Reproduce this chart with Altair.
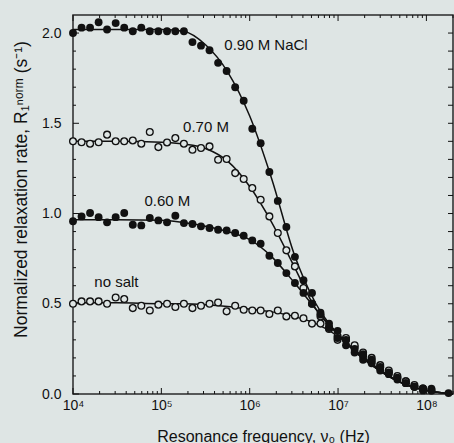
import altair as alt
import pandas as pd

# Sweep frequencies of the measured points (Hz)
FREQ_HZ = [1.00e4, 1.25e4, 1.56e4, 1.95e4, 2.43e4, 3.04e4, 3.80e4, 4.75e4, 5.93e4, 7.40e4,
           9.25e4, 1.16e5, 1.44e5, 1.80e5, 2.25e5, 2.81e5, 3.51e5, 4.39e5, 5.48e5, 6.85e5,
           8.55e5, 1.07e6, 1.33e6, 1.67e6, 2.08e6, 2.60e6, 3.25e6, 4.06e6, 5.07e6, 6.33e6,
           7.91e6, 9.88e6, 1.23e7, 1.54e7, 1.92e7, 2.40e7, 3.00e7, 3.75e7, 4.69e7, 5.85e7,
           7.31e7, 9.14e7, 1.14e8, 1.43e8, 1.78e8]

# Normalized relaxation rates (1/s); None where no point was recorded
R_090 = [2.00, 2.03, 2.03, 2.06, 2.02, 2.055, 2.03, 2.01, 2.03, 2.01,
         2.01, 2.01, 2.01, 2.01, 1.95, 1.93, 1.905, 1.835, 1.79, 1.70,
         1.625, 1.47, 1.39, 1.23, 1.07, 0.925, 0.76, 0.63, 0.56, 0.44,
         0.37, 0.31, 0.27, 0.23, 0.19, 0.17, 0.13, 0.11, 0.08, 0.06,
         0.04, 0.03, 0.03, None, 0.005]
R_070 = [1.40, 1.395, 1.387, 1.395, 1.437, 1.40, 1.40, 1.405, 1.387, 1.452,
         1.368, 1.394, 1.418, 1.387, 1.353, 1.363, 1.372, 1.298, 1.302, 1.224,
         1.191, 1.141, 1.076, 0.984, 0.892, 0.796, 0.707, 0.587, 0.50, 0.43,
         0.36, 0.30, 0.30, 0.26, 0.21, 0.18, 0.15, 0.12, 0.09, 0.07,
         0.04, 0.03, 0.02, None, None]
R_060 = [0.957, 0.984, 1.003, 0.98, 0.951, 0.98, 1.003, 0.938, 0.934, 0.975,
         0.962, 0.951, 0.988, 0.947, 0.942, 0.929, 0.92, 0.91, 0.906, 0.892,
         0.877, 0.851, 0.833, 0.766, 0.726, 0.67, 0.615, 0.56, 0.50, 0.45,
         0.39, 0.35, 0.30, 0.25, 0.22, 0.19, 0.15, 0.12, 0.09, 0.06,
         0.04, 0.02, 0.02, None, None]
R_NOSALT = [0.50, 0.513, 0.513, 0.513, 0.50, 0.535, 0.526, 0.476, 0.489, 0.463,
            0.495, 0.50, 0.482, 0.50, 0.476, 0.489, 0.50, 0.507, 0.458, 0.489,
            0.467, 0.463, 0.463, 0.443, 0.463, 0.43, 0.434, 0.42, 0.39, 0.39,
            0.366, 0.32, 0.31, 0.27, 0.23, 0.20, 0.16, 0.13, 0.10, 0.07,
            0.05, 0.03, None, None, None]

# Fitted dispersion curves
FIT_FREQ_HZ = [1e4, 3.16e4, 1e5, 1.78e5, 3.16e5, 5.62e5, 1e6, 1.78e6, 3.16e6, 5.62e6,
               1e7, 1.78e7, 3.16e7, 5.62e7, 1e8, 2e8]
FIT_090 = [2.02, 2.02, 2.02, 2.01, 1.935, 1.785, 1.54, 1.19, 0.78, 0.50,
           0.33, 0.21, 0.12, 0.055, 0.02, 0.0]
FIT_070 = [1.40, 1.40, 1.395, 1.385, 1.36, 1.29, 1.15, 0.95, 0.71, 0.47,
           0.33, 0.21, 0.12, 0.055, 0.02, 0.0]
FIT_060 = [0.965, 0.965, 0.963, 0.95, 0.93, 0.90, 0.855, 0.76, 0.62, 0.47,
           0.33, 0.215, 0.12, 0.055, 0.02, 0.0]
FIT_NOSALT = [0.505, 0.505, 0.50, 0.50, 0.495, 0.485, 0.47, 0.455, 0.43, 0.39,
              0.32, 0.22, 0.125, 0.055, 0.02, 0.0]

LABEL_TEXT = ["0.90 M NaCl", "0.70 M", "0.60 M", "no salt"]
LABEL_FREQ = [1.53e6, 3.2e5, 1.17e5, 3.1e4]
LABEL_R = [1.935, 1.48, 1.07, 0.62]

SERIES = ["0.90 M", "0.70 M", "0.60 M", "no salt"]
FILLED = [True, False, True, False]

W, H = 380, 379
BG = "#dee5e4"
INK = "#111111"
FONT = "Liberation Sans"

pts_rows, fit_rows = [], []
for name, vals, fill in zip(SERIES, [R_090, R_070, R_060, R_NOSALT], FILLED):
    for f, r in zip(FREQ_HZ, vals):
        if r is not None:
            pts_rows.append({"series": name, "f": f, "r": r, "filled": fill})
for name, vals in zip(SERIES, [FIT_090, FIT_070, FIT_060, FIT_NOSALT]):
    for f, r in zip(FIT_FREQ_HZ, vals):
        fit_rows.append({"series": name, "f": f, "r": r})
pts = pd.DataFrame(pts_rows)
fit = pd.DataFrame(fit_rows)
labels = pd.DataFrame({"text": LABEL_TEXT, "f": LABEL_FREQ, "r": LABEL_R})

sup = {4: "⁴", 5: "⁵", 6: "⁶", 7: "⁷", 8: "⁸"}
label_expr = " : ".join(
    f"datum.value < {10 ** e * 3} ? '10{s}'" for e, s in sup.items()
) + " : ''"

x_axis = alt.Axis(values=[1e4, 1e5, 1e6, 1e7, 1e8], labelExpr=label_expr, ticks=False,
                  domain=False, grid=False, labelFlush=False, labelPadding=4,
                  labelFontSize=14, title="Resonance frequency, ν₀ (Hz)", titleFontSize=16,
                  titleFontWeight="normal", titleY=47, titleBaseline="alphabetic")
y_axis = alt.Axis(values=[0, 0.5, 1.0, 1.5, 2.0], format=".1f", ticks=False, domain=False,
                  grid=False, labelFlush=False, labelPadding=12, labelFontSize=14,
                  title="Normalized relaxation rate, R₁ⁿᵒʳᵐ (s⁻¹)", titleFontSize=17.5,
                  titleFontWeight="normal", titleAngle=-90, titleX=-52, titleY=174,
                  titleAlign="center", titleBaseline="middle")
X = alt.X("f:Q", scale=alt.Scale(type="log", domain=[1e4, 2e8], nice=False), axis=x_axis)
Y = alt.Y("r:Q", scale=alt.Scale(domain=[0, 2.1], nice=False), axis=y_axis)

# Inward-pointing tick marks on all four sides
major_f = pd.DataFrame({"f": [1e4, 1e5, 1e6, 1e7, 1e8]})
minor_f = pd.DataFrame({"f": [m * 10 ** e for e in range(4, 9) for m in range(2, 10)
                              if m * 10 ** e <= 2e8]})
major_r = pd.DataFrame({"r": [0.0, 0.5, 1.0, 1.5, 2.0]})
minor_r = pd.DataFrame({"r": [round(0.1 * i, 1) for i in range(0, 21) if i % 5]})
all_r = pd.DataFrame({"r": [round(0.1 * i, 1) for i in range(0, 21)]})

tick = dict(color=INK, strokeWidth=1)
ticks = [
    alt.Chart(major_f).mark_rule(**tick).encode(x=X, y=alt.value(H), y2=alt.value(H - 6)),
    alt.Chart(minor_f).mark_rule(**tick).encode(x=X, y=alt.value(H), y2=alt.value(H - 3)),
    alt.Chart(major_f).mark_rule(**tick).encode(x=X, y=alt.value(0), y2=alt.value(6)),
    alt.Chart(minor_f).mark_rule(**tick).encode(x=X, y=alt.value(0), y2=alt.value(3)),
    alt.Chart(major_r).mark_rule(**tick).encode(y=Y, x=alt.value(0), x2=alt.value(6)),
    alt.Chart(minor_r).mark_rule(**tick).encode(y=Y, x=alt.value(0), x2=alt.value(3)),
    alt.Chart(all_r).mark_rule(**tick).encode(y=Y, x=alt.value(W), x2=alt.value(W - 5)),
]

lines = alt.Chart(fit).mark_line(color=INK, strokeWidth=1.5, interpolate="monotone").encode(
    x=X, y=Y, detail="series:N")
open_pts = alt.Chart(pts).transform_filter("!datum.filled").mark_point(
    shape="circle", filled=True, fill=BG, stroke=INK, strokeWidth=1.3, size=46, opacity=1
).encode(x=X, y=Y)
solid_pts = alt.Chart(pts).transform_filter("datum.filled").mark_circle(
    color=INK, size=62, opacity=1).encode(x=X, y=Y)
text = alt.Chart(labels).mark_text(font=FONT, fontSize=15, color=INK, align="center",
                                   baseline="middle").encode(x=X, y=Y, text="text:N")

chart = alt.layer(*ticks, lines, open_pts, solid_pts, text).properties(
    width=W, height=H, background=BG,
    padding={"left": 73, "top": 15, "right": 1, "bottom": 49},
    autosize=alt.AutoSizeParams(type="none"),
).configure_view(fill=BG, stroke="#2a2a2a", strokeWidth=1.5).configure_axis(
    labelFont=FONT, titleFont=FONT, labelColor=INK, titleColor=INK
)

chart.save("out.html", embed_options={"renderer": "svg", "actions": False})
